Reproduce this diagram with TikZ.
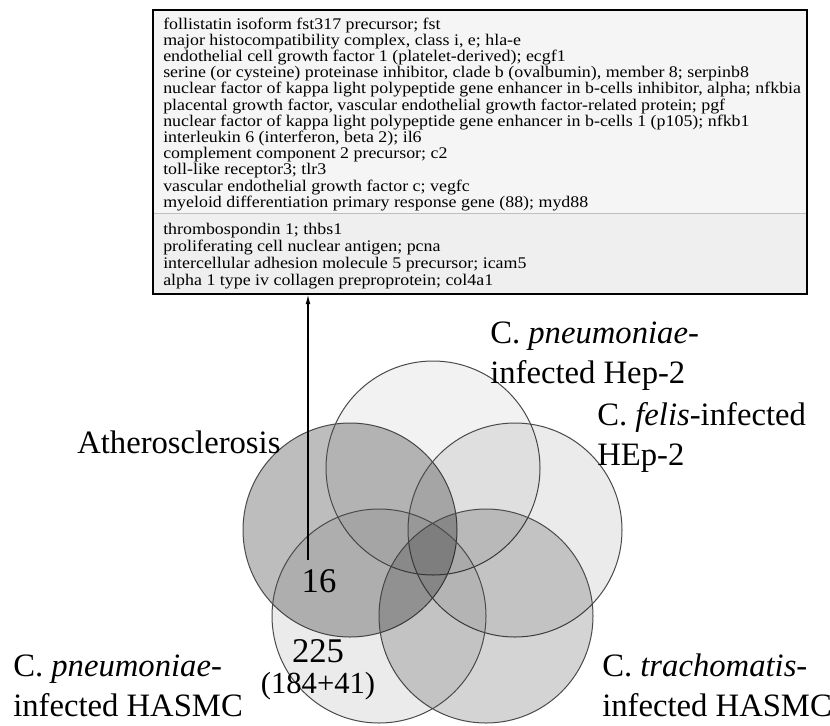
\documentclass[tikz,border=0pt]{standalone}
\usepackage{fontspec}
\setmainfont{Liberation Serif}
\usepackage{graphicx}
\usepackage{tikz}
\usetikzlibrary{arrows.meta,fit}
\definecolor{boxfill}{HTML}{F5F5F5}
\definecolor{boxfilllow}{HTML}{EFEFEF}
\definecolor{vennline}{HTML}{4A4A4A}

\tikzset{
  genetext/.style={anchor=base west,inner sep=0pt,font=\fontsize{12.2}{13}\selectfont},
  setlabel/.style={anchor=base west,inner sep=0pt,font=\fontsize{24.5}{29}\selectfont},
  countlabel/.style={inner sep=0pt,font=\fontsize{26}{30}\selectfont},
  venn/.style={draw=vennline,line width=0.75pt,fill=black},
}

\begin{document}
\begin{tikzpicture}[x=0.75pt,y=-0.75pt]
    \useasboundingbox (0,0) rectangle (830,725);
    % gene list box
    \coordinate (boxnw) at (153,10);
    \coordinate (boxse) at (807,294);
    \fill[boxfill] (153,10) rectangle (807,213);
    \fill[boxfilllow] (153,213) rectangle (807,294);
    \draw[black!25,line width=0.6pt] (153,213) -- (807,213);
    \node[draw=black,line width=1pt,fit=(boxnw)(boxse),inner sep=0pt] (genes) {};
    \foreach \gene [count=\i from 0] in {
        follistatin isoform fst317 precursor; fst,
        {major histocompatibility complex, class i, e; hla-e},
        endothelial cell growth factor 1 (platelet-derived); ecgf1,
        {serine (or cysteine) proteinase inhibitor, clade b (ovalbumin), member 8; serpinb8},
        {nuclear factor of kappa light polypeptide gene enhancer in b-cells inhibitor, alpha; nfkbia},
        {placental growth factor, vascular endothelial growth factor-related protein; pgf},
        nuclear factor of kappa light polypeptide gene enhancer in b-cells 1 (p105); nfkb1,
        {interleukin 6 (interferon, beta 2); il6},
        complement component 2 precursor; c2,
        toll-like receptor3; tlr3,
        vascular endothelial growth factor c; vegfc,
        myeloid differentiation primary response gene (88); myd88}
      \node[genetext] (gene\i) at (163,29+16.2*\i) {\scalebox{1.1}[1]{\gene}};
    \foreach \gene [count=\i from 0] in {
        thrombospondin 1; thbs1,
        proliferating cell nuclear antigen; pcna,
        intercellular adhesion molecule 5 precursor; icam5,
        alpha 1 type iv collagen preproprotein; col4a1}
      \node[genetext] (geneb\i) at (163,234+17.3*\i) {\scalebox{1.1}[1]{\gene}};

    % five sets
    \draw[venn,fill opacity=0.26] (350,530) circle[radius=107];
    \draw[venn,fill opacity=0.05] (433,468) circle[radius=107];
    \draw[venn,fill opacity=0.08] (515,530) circle[radius=107];
    \draw[venn,fill opacity=0.17] (486,616) circle[radius=107];
    \draw[venn,fill opacity=0.08] (379,616) circle[radius=107];

    % set names
    \node[setlabel] (ath) at (77,453) {Atherosclerosis};
    \node[setlabel] (hepa) at (490,343) {C. \textit{pneumoniae}-};
    \node[setlabel] (hepb) at (490,383) {infected Hep-2};
    \node[setlabel] (felisa) at (597,425) {C. \textit{felis}-infected};
    \node[setlabel] (felisb) at (597,465) {HEp-2};
    \node[setlabel] (hasmca) at (13,676) {C. \textit{pneumoniae}-};
    \node[setlabel] (hasmcb) at (13,716) {infected HASMC};
    \node[setlabel] (trachoa) at (602,676) {C. \textit{trachomatis}-};
    \node[setlabel] (trachob) at (602,716) {infected HASMC};

    % counts
    \node[countlabel] (n16) at (319,581) {16};
    \node[countlabel] (n225) at (318,651) {225};
    \node[countlabel,font=\fontsize{23}{27}\selectfont] (nsplit) at (318,686) {(184+41)};

    \coordinate (arrowtail) at (308,560);
    \draw[line width=0.8pt,-{Latex[length=7pt,width=3.5pt]}] (arrowtail) -- (arrowtail |- genes.south);
\end{tikzpicture}
\end{document}
